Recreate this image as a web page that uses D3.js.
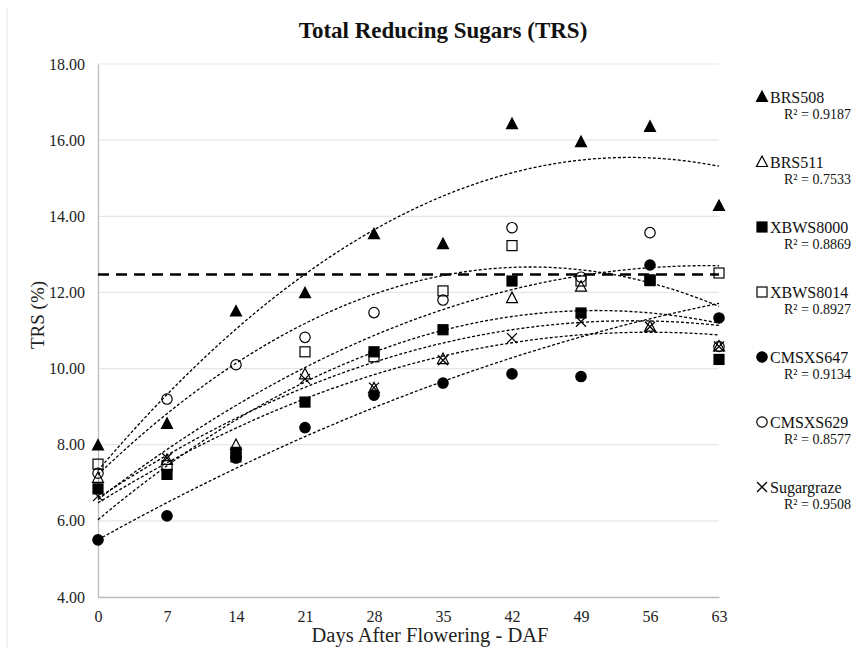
<!DOCTYPE html>
<html>
<head>
<meta charset="utf-8">
<script src="https://cdn.jsdelivr.net/npm/d3@7/dist/d3.min.js"></script>
<style>
  html, body { margin: 0; padding: 0; background: #fff; }
  svg text { font-family: "Liberation Serif", "Times New Roman", Times, serif !important; }
</style>
</head>
<body>
<svg id="chart" width="853" height="648"></svg>
<script>
// Sampling days after flowering
const days = [0, 7, 14, 21, 28, 35, 42, 49, 56, 63];

// TRS (%) per genotype
const brs508     = [7.98, 8.55, 11.50, 11.98, 13.53, 13.27, 16.42, 15.95, 16.35, 14.27];
const brs511     = [7.13, 7.60, 7.99, 9.85, 9.48, 10.25, 11.85, 12.15, 11.10, 10.58];
const xbws8000   = [6.84, 7.22, 7.80, 9.12, 10.44, 11.02, 12.30, 11.46, 12.31, 10.24];
const xbws8014   = [7.49, 7.45, 7.68, 10.44, 10.31, 12.04, 13.23, 12.30, 12.33, 12.51];
const cmsxs647   = [5.50, 6.13, 7.65, 8.45, 9.30, 9.62, 9.86, 9.79, 12.72, 11.33];
const cmsxs629   = [7.25, 9.20, 10.10, 10.82, 11.47, 11.80, 13.70, 12.40, 13.57, 10.58];
const sugargraze = [6.65, 7.65, 7.75, 9.73, 9.50, 10.22, 10.80, 11.23, 11.10, 10.58];

const seriesNames = ["BRS508", "BRS511", "XBWS8000", "XBWS8014", "CMSXS647", "CMSXS629", "Sugargraze"];
const seriesValues = [brs508, brs511, xbws8000, xbws8014, cmsxs647, cmsxs629, sugargraze];
const seriesMarkers = ["triangleFilled", "triangleOpen", "squareFilled", "squareOpen", "circleFilled", "circleOpen", "cross"];
const r2Labels = ["0.9187", "0.7533", "0.8869", "0.8927", "0.9134", "0.8577", "0.9508"];

// Reference level drawn as a bold dashed line
const referenceLevel = [12.47];

const yTicks = [4, 6, 8, 10, 12, 14, 16, 18];

const svg = d3.select("#chart");
const margin = { left: 98, right: 719, top: 64, bottom: 597 };

const x = d3.scaleLinear().domain([0, 63]).range([margin.left, margin.right]);
const y = d3.scaleLinear().domain([4, 18]).range([margin.bottom, margin.top]);

// Outer chart border (left edge)
svg.append("line")
  .attr("x1", 7).attr("x2", 7).attr("y1", 8).attr("y2", 648)
  .attr("stroke", "#e4e4e4").attr("stroke-width", 1);

// Title
svg.append("text")
  .attr("x", 443).attr("y", 38)
  .attr("text-anchor", "middle")
  .attr("font-weight", "bold")
  .attr("font-size", 23)
  .attr("fill", "#111")
  .text("Total Reducing Sugars (TRS)");

// Horizontal gridlines
svg.append("g")
  .selectAll("line")
  .data(yTicks.filter(t => t > 4))
  .join("line")
  .attr("x1", margin.left).attr("x2", margin.right)
  .attr("y1", d => y(d)).attr("y2", d => y(d))
  .attr("stroke", "#e6e6e6").attr("stroke-width", 1.2);

// Y axis
const yAxis = svg.append("g")
  .attr("transform", `translate(${margin.left},0)`)
  .call(d3.axisLeft(y).tickValues(yTicks).tickFormat(d3.format(".2f")).tickSize(0).tickPadding(13));
yAxis.select(".domain").attr("stroke", "#bdbdbd").attr("stroke-width", 1.3);
yAxis.selectAll("text").attr("font-size", 16).attr("fill", "#222");

// X axis
const xAxis = svg.append("g")
  .attr("transform", `translate(0,${margin.bottom})`)
  .call(d3.axisBottom(x).tickValues(days).tickSize(0).tickPadding(14));
xAxis.select(".domain").attr("stroke", "#bdbdbd").attr("stroke-width", 1.3);
xAxis.selectAll("text").attr("font-size", 16).attr("fill", "#222");

// Axis titles
svg.append("text")
  .attr("transform", "translate(44,315) rotate(-90)")
  .attr("text-anchor", "middle")
  .attr("font-size", 19).attr("fill", "#222")
  .text("TRS (%)");

svg.append("text")
  .attr("x", 430).attr("y", 642)
  .attr("text-anchor", "middle")
  .attr("font-size", 20.5).attr("fill", "#222")
  .text("Days After Flowering - DAF");

// Reference dashed line
svg.append("line")
  .attr("x1", x(0)).attr("x2", x(63))
  .attr("y1", y(referenceLevel[0])).attr("y2", y(referenceLevel[0]))
  .attr("stroke", "#000").attr("stroke-width", 2.6)
  .attr("stroke-dasharray", "11,7");

// Second-order polynomial least-squares fit
function quadFit(xs, ys) {
  const n = xs.length;
  let s = [0, 0, 0, 0, 0], t = [0, 0, 0];
  for (let i = 0; i < n; i++) {
    const xi = xs[i], yi = ys[i];
    for (let k = 0; k <= 4; k++) s[k] += Math.pow(xi, k);
    for (let k = 0; k <= 2; k++) t[k] += yi * Math.pow(xi, k);
  }
  const M = [
    [s[0], s[1], s[2], t[0]],
    [s[1], s[2], s[3], t[1]],
    [s[2], s[3], s[4], t[2]]
  ];
  for (let c = 0; c < 3; c++) {
    let p = c;
    for (let r = c + 1; r < 3; r++) if (Math.abs(M[r][c]) > Math.abs(M[p][c])) p = r;
    [M[c], M[p]] = [M[p], M[c]];
    for (let r = 0; r < 3; r++) {
      if (r === c) continue;
      const f = M[r][c] / M[c][c];
      for (let k = c; k < 4; k++) M[r][k] -= f * M[c][k];
    }
  }
  const a0 = M[0][3] / M[0][0], a1 = M[1][3] / M[1][1], a2 = M[2][3] / M[2][2];
  return xv => a0 + a1 * xv + a2 * xv * xv;
}

// Trend lines
const trendLine = d3.line().x(d => x(d[0])).y(d => y(d[1]));
const xsFine = d3.range(0, 63.01, 0.5);
svg.append("g")
  .selectAll("path")
  .data(seriesValues)
  .join("path")
  .attr("d", vals => {
    const f = quadFit(days, vals);
    return trendLine(xsFine.map(xv => [xv, f(xv)]));
  })
  .attr("fill", "none")
  .attr("stroke", "#000")
  .attr("stroke-width", 1.3)
  .attr("stroke-dasharray", "3,2");

// Marker drawing
function drawMarker(g, type, cx, cy) {
  const sw = 1.2;
  switch (type) {
    case "triangleFilled":
    case "triangleOpen": {
      const h = 10, w = 11;
      g.append("path")
        .attr("d", `M${cx},${cy - h * 0.6} L${cx + w / 2},${cy + h * 0.45} L${cx - w / 2},${cy + h * 0.45} Z`)
        .attr("fill", type === "triangleFilled" ? "#000" : "none")
        .attr("stroke", "#000").attr("stroke-width", sw);
      break;
    }
    case "squareFilled":
    case "squareOpen":
      g.append("rect")
        .attr("x", cx - 5).attr("y", cy - 5).attr("width", 10).attr("height", 10)
        .attr("fill", type === "squareFilled" ? "#000" : "none")
        .attr("stroke", "#000").attr("stroke-width", sw);
      break;
    case "circleFilled":
    case "circleOpen":
      g.append("circle")
        .attr("cx", cx).attr("cy", cy).attr("r", 5.2)
        .attr("fill", type === "circleFilled" ? "#000" : "none")
        .attr("stroke", "#000").attr("stroke-width", sw);
      break;
    case "cross":
      g.append("path")
        .attr("d", `M${cx - 5},${cy - 5} L${cx + 5},${cy + 5} M${cx - 5},${cy + 5} L${cx + 5},${cy - 5}`)
        .attr("stroke", "#000").attr("stroke-width", 1.3).attr("fill", "none");
      break;
  }
}

// Data points
const pointsG = svg.append("g");
seriesValues.forEach((vals, si) => {
  vals.forEach((v, i) => drawMarker(pointsG, seriesMarkers[si], x(days[i]), y(v)));
});

// Legend
const legend = svg.append("g");
seriesNames.forEach((name, i) => {
  const ly = 98 + i * 65;
  drawMarker(legend, seriesMarkers[i], 762, ly - 1);
  legend.append("text")
    .attr("x", 770).attr("y", ly + 5)
    .attr("font-size", 16).attr("fill", "#111")
    .text(name);
  legend.append("text")
    .attr("x", 784).attr("y", ly + 21)
    .attr("font-size", 14).attr("fill", "#111")
    .text("R² = " + r2Labels[i]);
});
</script>
</body>
</html>
